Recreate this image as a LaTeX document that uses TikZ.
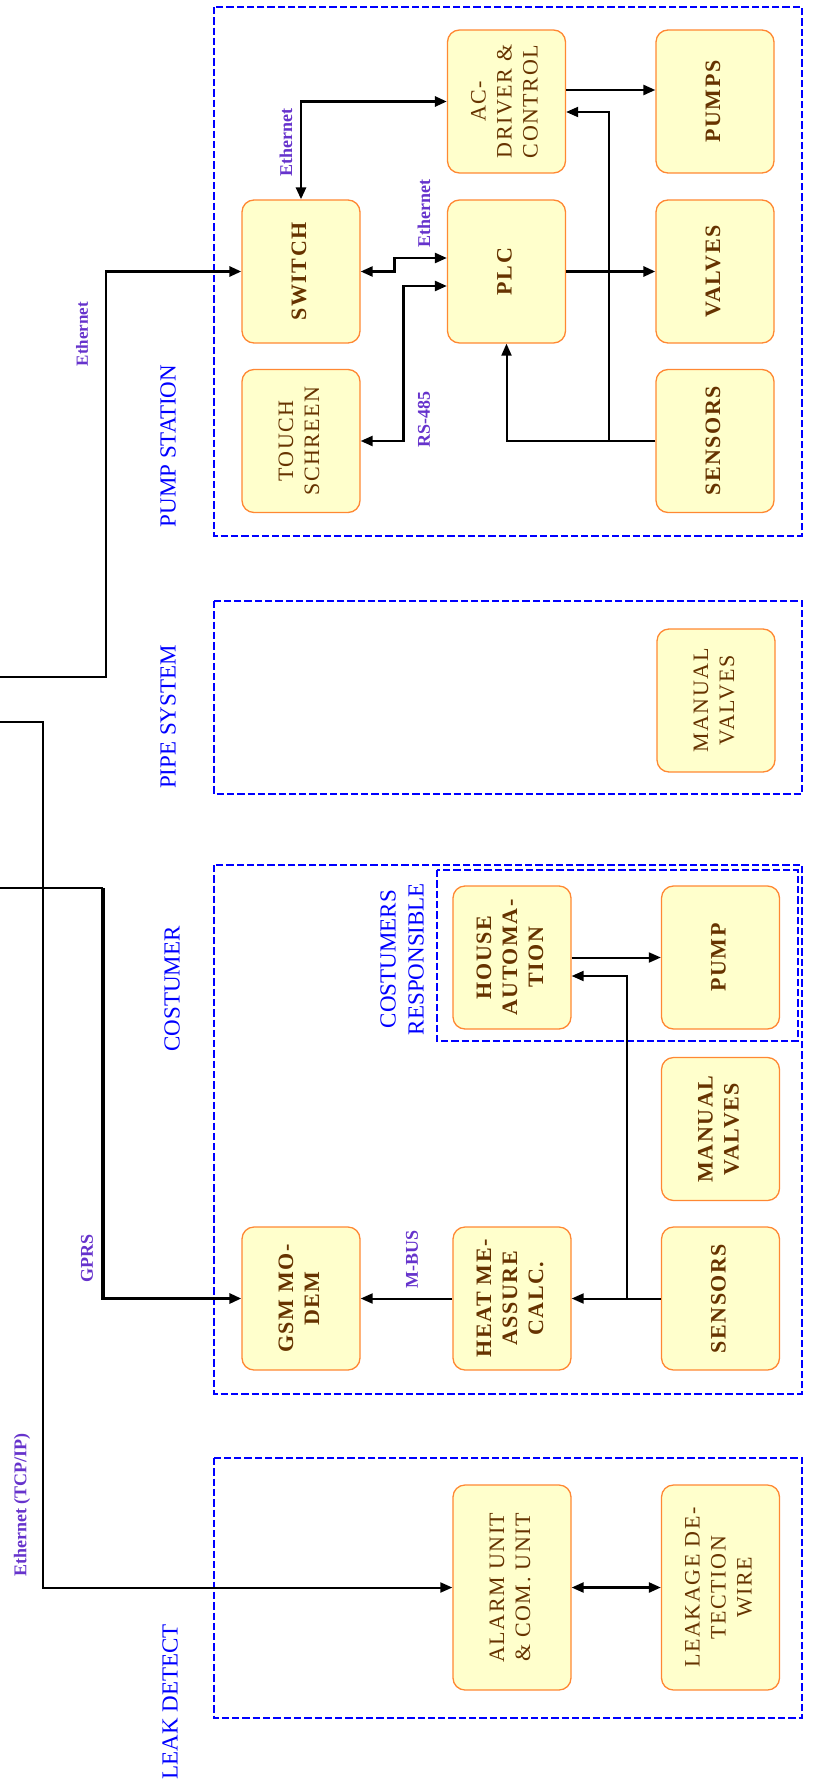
\documentclass[tikz,border=0pt]{standalone}
\usepackage{fontspec}
\setmainfont{Liberation Serif}
\newfontfamily\nodefont[LetterSpace=7]{Liberation Serif}
\usetikzlibrary{arrows.meta}
\definecolor{grpblue}{HTML}{0000FF}
\definecolor{boxfill}{HTML}{FFFFCC}
\definecolor{boxline}{HTML}{FF8833}
\definecolor{boxtext}{HTML}{663300}
\definecolor{lblpurple}{HTML}{6633CC}
\newcommand{\rtxt}[1]{\rotatebox{90}{\begin{tabular}{@{}c@{}}#1\end{tabular}}}
\begin{document}
\begin{tikzpicture}[x=1pt,y=-1pt,
 blk/.style={draw=boxline, fill=boxfill, line width=1.3pt, rounded corners=12pt, inner sep=0pt, text=boxtext, minimum width=118pt, minimum height=143pt, font=\nodefont\bfseries\fontsize{22}{26}\selectfont},
 blkr/.style={blk, font=\nodefont\fontsize{22}{26}\selectfont},
 grp/.style={draw=grpblue, line width=2.6pt, dash pattern=on 7.3pt off 3pt},
 grplbl/.style={text=grpblue, rotate=90, font=\fontsize{23}{27}\selectfont, align=center, inner sep=0pt},
 lbl/.style={text=lblpurple, rotate=90, font=\bfseries\fontsize{18}{20}\selectfont, inner sep=0pt},
 con/.style={line width=2.4pt, -{Triangle[length=12pt,width=10pt]}},
 bicon/.style={line width=2.4pt, {Triangle[length=12pt,width=10pt]}-{Triangle[length=12pt,width=10pt]}},
]
\useasboundingbox (0,0) rectangle (812,1784);

% group boxes
\draw[grp] (214,7) rectangle (802,536);
\draw[grp] (214,601) rectangle (802,794);
\draw[grp] (214,865) rectangle (802,1394);
\draw[grp] (437,870) rectangle (798,1041);
\draw[grp] (214,1458) rectangle (802,1718);

% group labels
\node[grplbl] (lps) at (168,446) {PUMP STATION};
\node[grplbl] (lpi) at (168,717) {PIPE SYSTEM};
\node[grplbl] (lco) at (172,989) {COSTUMER};
\node[grplbl] (lld) at (170,1702) {LEAK DETECT};
\node[grplbl, font=\fontsize{23}{28}\selectfont] (lcr) at (402,959) {COSTUMERS\\RESPONSIBLE};

% pump station
\node[blkr] (ac) at (506.5,101.5) {\rtxt{AC-\\DRIVER \&\\CONTROL}};
\node[blk] (pumps) at (715,101.5) {\rtxt{PUMPS}};
\node[blk] (switch) at (301,271.5) {\rtxt{SWITCH}};
\node[blk] (plc) at (506.5,271.5) {\rtxt{PLC}};
\node[blk] (valves) at (715,271.5) {\rtxt{VALVES}};
\node[blkr] (touch) at (301,441) {\rtxt{TOUCH\\SCHREEN}};
\node[blk] (sens1) at (715,441) {\rtxt{SENSORS}};

% pipe system
\node[blkr] (man1) at (716,700.5) {\rtxt{MANUAL\\VALVES}};

% costumer
\node[blk] (house) at (512,957.5) {\rtxt{HOUSE\\AUTOMA-\\TION}};
\node[blk] (pump) at (720.5,957.5) {\rtxt{PUMP}};
\node[blk] (man2) at (720.5,1129) {\rtxt{MANUAL\\VALVES}};
\node[blk] (gsm) at (301,1298.5) {\rtxt{GSM MO-\\DEM}};
\node[blk] (heat) at (512,1298.5) {\rtxt{HEAT ME-\\ASSURE\\CALC.}};
\node[blk] (sens2) at (720.5,1298.5) {\rtxt{SENSORS}};

% leak detect
\node[blkr, minimum height=205pt] (alarm) at (512,1587.5) {\rtxt{ALARM UNIT\\\& COM. UNIT}};
\node[blkr, minimum height=205pt] (leak) at (720.5,1587.5) {\rtxt{LEAKAGE DE-\\TECTION\\WIRE}};

% external lines
\coordinate (in1) at (0,677);
\coordinate (in2) at (0,722);
\coordinate (in3) at (0,888);
\coordinate (c3) at (103,888);
\draw[con, line width=2.8pt] (in1) -- ++(106,0) |- (switch.west);
\draw[con, line width=2pt] (in2) -- ++(43,0) |- (alarm.west);
\draw[line width=2.2pt] (in3) -- (c3);
\draw[con, line width=3.6pt] (c3) |- (gsm.west);
\node[lbl, font=\bfseries\fontsize{17}{20}\selectfont] (le1) at (82,334) {Ethernet};
\node[lbl] (lgp) at (87,1258) {GPRS};
\node[lbl] (le3) at (22,1505) {Ethernet (TCP/IP)};

% pump station connectors
\draw[bicon, line width=2.8pt] (switch.north) |- (ac.west);
\node[lbl] (le2) at (286,143) {Ethernet};
\draw[bicon] (switch.east) -- ++(34,0) |- ([yshift=13.5pt]plc.west);
\node[lbl] (le4) at (424,214) {Ethernet};
\draw[bicon] (touch.east) -- ++(43,0) |- ([yshift=-14.5pt]plc.west);
\node[lbl] (lrs) at (424,419) {RS-485};
\draw[con, line width=2.8pt] (plc.east) -- (valves.west);
\draw[con] ([yshift=11.5pt]ac.east) -- ([yshift=11.5pt]pumps.west);
\draw[con, line width=2pt] (sens1.west) -| (plc.south);
\coordinate (j1) at (609,441);
\draw[con, line width=2pt] (j1) |- ([yshift=-10.5pt]ac.east);

% costumer connectors
\draw[con, line width=2pt] (house.east) -- (pump.west);
\draw[con, line width=2pt] (sens2.west) -- (heat.east);
\coordinate (j2) at (627,1298.5);
\draw[con, line width=2pt] (j2) |- ([yshift=-18.5pt]house.east);
\draw[con, line width=2pt] (heat.west) -- (gsm.east);
\node[lbl] (lmb) at (412,1259) {M-BUS};

% leak detect connector
\draw[bicon] (alarm.east) -- (leak.west);
\end{tikzpicture}
\end{document}
